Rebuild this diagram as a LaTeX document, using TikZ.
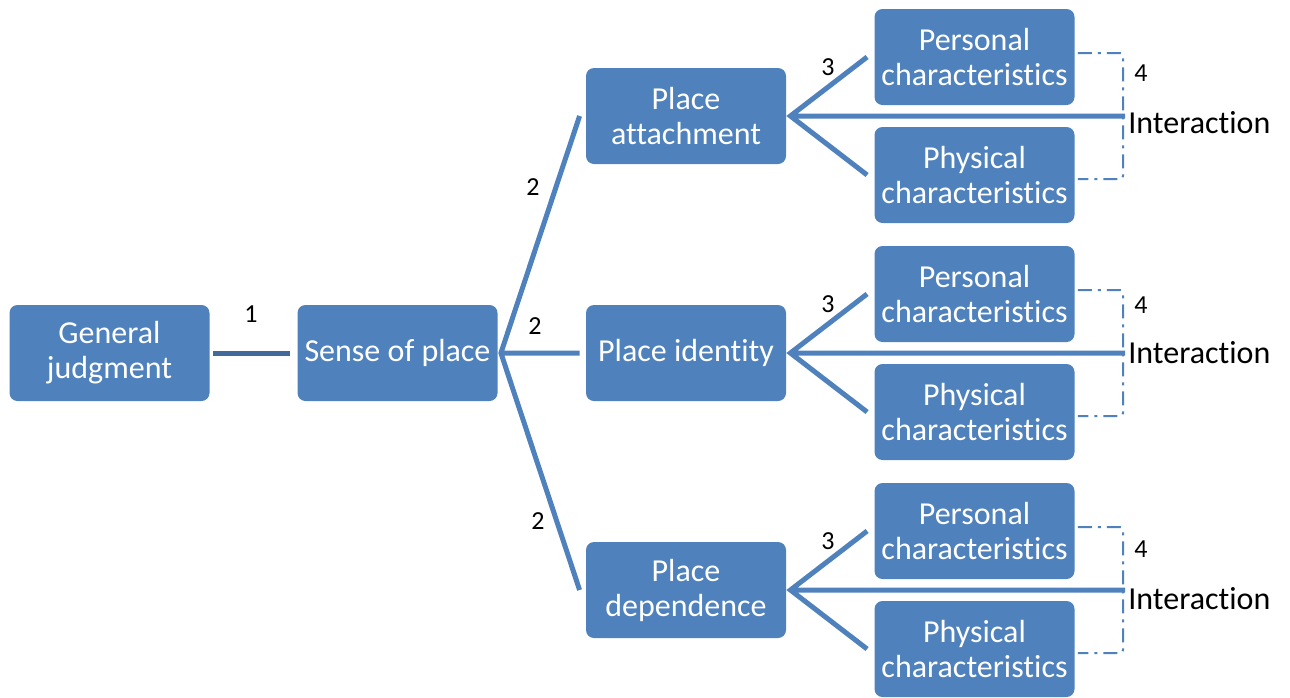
\documentclass[tikz,border=0pt]{standalone}
\usepackage{fontspec}
\setmainfont{Carlito}[Ligatures=NoCommon]
\definecolor{boxblue}{HTML}{4F81BD}
\definecolor{darkblue}{HTML}{41699B}
\tikzset{
  box/.style={fill=boxblue, rounded corners=4pt, minimum width=100pt, minimum height=48pt,
    inner sep=0pt, text=white, align=center, font=\fontsize{16}{17.5}\selectfont},
  link/.style={draw=boxblue, line width=2.5pt},
  inter/.style={draw=boxblue, line width=1pt, rounded corners=1.5pt,
    dash pattern=on 7pt off 3pt on 1.5pt off 3pt},
  num/.style={font=\fontsize{13}{15}\selectfont, inner sep=0pt},
  word/.style={font=\fontsize{16}{17.5}\selectfont, inner sep=0pt, anchor=west}
}
\begin{document}
\begin{tikzpicture}[x=0.5pt,y=-0.5pt]
  \useasboundingbox (0,0) rectangle (1290,697);
  % main chain
  \node[box] (gen) at (109.5,353) {General\\judgment};
  \node[box] (sense) at (397.5,353) {Sense of place};
  \node[box] (att) at (686,116) {Place\\attachment};
  \node[box] (idt) at (686,353) {Place identity};
  \node[box] (dep) at (686,590) {Place\\dependence};

  \draw[link, draw=darkblue] ([xshift=1.5pt]gen.east) -- ([xshift=-3.5pt]sense.west);
  \node[num] (one) at (251,314) {1};

  \coordinate (fan) at ([xshift=1.5pt]sense.east);
  \draw[link] ([xshift=-3pt]att.west) -- (fan) -- ([xshift=-3pt]dep.west)
    (fan) -- ([xshift=-3pt]idt.west);
  \node[num] (two-att) at (533,187) {2};
  \node[num] (two-idt) at (535,326) {2};
  \node[num] (two-dep) at (538,521) {2};

  % the three branches
  \foreach \p/\py/\iy/\fy in {att/116/123/73, idt/353/353/305, dep/590/599/549}{
    \node[box] (pers-\p) at (974.5,\py-59) {Personal\\characteristics};
    \node[box] (phys-\p) at (974.5,\py+59) {Physical\\characteristics};
    \coordinate (hub-\p) at ([xshift=2pt]\p.east);
    \coordinate (end-\p) at (1125,\py);
    \draw[link] ([xshift=-3.5pt]pers-\p.west) -- (hub-\p) -- ([xshift=-3.5pt]phys-\p.west)
      (hub-\p) -- (end-\p);
    \draw[inter] ([xshift=1.5pt,yshift=2pt]pers-\p.east) -| (1123,\py)
      |- ([xshift=1.5pt,yshift=-2pt]phys-\p.east);
    \node[num] (three-\p) at (828,\py-49) {3};
    \node[num] (four-\p) at (1141,\fy) {4};
    \node[word] (int-\p) at (1128,\iy) {Interaction};
  }
\end{tikzpicture}
\end{document}
